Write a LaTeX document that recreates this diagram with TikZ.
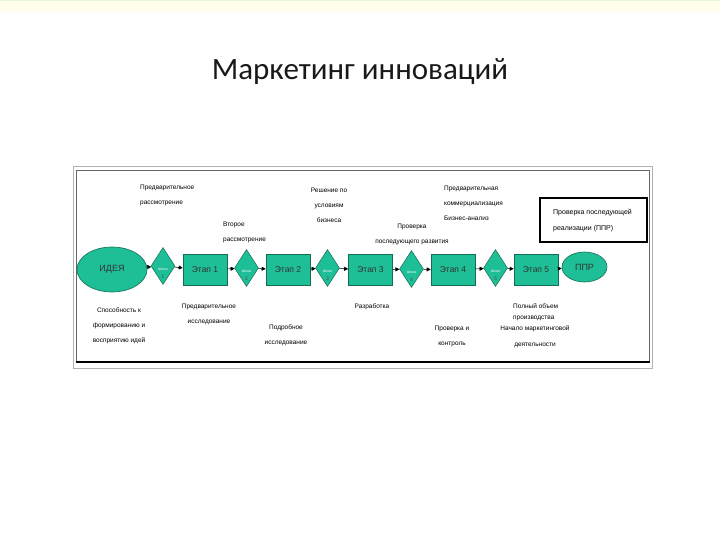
\documentclass[tikz,border=0pt]{standalone}
\usepackage{fontspec}
\setmainfont{Liberation Sans}
\newfontfamily\titlefont{Carlito}
\usetikzlibrary{shapes.geometric,arrows.meta}
\definecolor{gr}{RGB}{30,190,150}
\definecolor{grdark}{RGB}{20,110,85}
\begin{document}
\begin{tikzpicture}[x=1pt,y=-1pt,
  lbl/.style={font=\fontsize{6.5}{15}\selectfont, text=black, align=left, inner sep=0, anchor=west},
  lblc/.style={font=\fontsize{6.5}{15}\selectfont, text=black, align=center, inner sep=0},
  stagebox/.style={rectangle, fill=gr, draw=grdark, line width=0.6pt, minimum width=44pt, minimum height=31pt, inner sep=0, font=\fontsize{8.5}{10}\selectfont, text=black!80},
  gate/.style={diamond, fill=gr, draw=grdark, line width=0.5pt, minimum width=24pt, minimum height=37pt, inner sep=0},
  oval/.style={ellipse, fill=gr, draw=grdark, line width=0.6pt, inner sep=0, font=\fontsize{9}{10}\selectfont, text=black!80},
  gtop/.style={font=\fontsize{3.5}{4}\selectfont, text=white, inner sep=0},
  gnum/.style={font=\fontsize{5}{6}\selectfont, text=black!70, inner sep=0},
  flow/.style={-{Triangle[length=4pt,width=4pt]}, line width=0.6pt, black}
]
\path[use as bounding box, fill=white] (0,0) rectangle (720,540);
% top band
\fill[yellow!30!green!15] (0,0) rectangle (720,1.5);
\fill[yellow!7] (0,1.5) rectangle (720,12);

% title
\node[font=\titlefont\fontsize{31}{34}\selectfont, text=black!90, inner sep=0] (title) at (360,72) {Маркетинг инноваций};

% frame
\draw[gray!60, line width=0.8pt] (73,166.5) rectangle (652,368);
\draw[black!60, line width=0.6pt] (76,362) -- (76,170) -- (649,170) -- (649,362);
\draw[black, line width=2.2pt] (75.5,362) -- (649.5,362);

% main row
\node[oval, minimum width=70pt, minimum height=45pt] (idea) at (112,269.5) {ИДЕЯ};
\node[gate] (d1) at (163,266) {};
\node[stagebox] (s1) at (205,270) {Этап 1};
\node[gate] (d2) at (246.5,268) {};
\node[stagebox] (s2) at (288,270) {Этап 2};
\node[gate] (d3) at (327.5,268) {};
\node[stagebox] (s3) at (370.5,270) {Этап 3};
\node[gate] (d4) at (411.5,269) {};
\node[stagebox] (s4) at (453,270) {Этап 4};
\node[gate] (d5) at (495.5,268) {};
\node[stagebox] (s5) at (536,270) {Этап 5};
\node[oval, minimum width=45pt, minimum height=30pt] (ppr) at (584.5,267) {ППР};

\foreach \i in {1,...,5}{
  \node[gtop] (g\i) at ([yshift=-3pt]d\i.center) {Шлюз};
  \node[gnum] (n\i) at ([yshift=-11pt]d\i.center) {\i};
}

\draw[flow] (idea) -- (d1);
\draw[flow] (d1) -- (s1);
\draw[flow] (s1) -- (d2);
\draw[flow] (d2) -- (s2);
\draw[flow] (s2) -- (d3);
\draw[flow] (d3) -- (s3);
\draw[flow] (s3) -- (d4);
\draw[flow] (d4) -- (s4);
\draw[flow] (s4) -- (d5);
\draw[flow] (d5) -- (s5);
\draw[flow] (s5) -- (ppr);

% top labels
\node[lbl] (t1) at (140,195) {Предварительное\\рассмотрение};
\node[lbl] (t2) at (223,232) {Второе\\рассмотрение};
\node[lblc] (t3) at (329,205) {Решение по\\условиям\\бизнеса};
\node[lblc] (t4) at (412,234.5) {Проверка\\последующего развития};
\node[lbl] (t5) at (444,203) {Предварительная\\коммерциализация\\Бизнес-анализ};

% bottom labels
\node[lblc] (b1) at (119,325.5) {Способность к\\формированию и\\восприятию идей};
\node[lblc] (b2) at (209,314.5) {Предварительное\\исследование};
\node[lblc] (b3) at (286,335.5) {Подробное\\исследование};
\node[lblc] (b4) at (372,307) {Разработка};
\node[lblc] (b5) at (452,336.5) {Проверка и\\контроль};
\node[lbl, font=\fontsize{6.5}{11}\selectfont] (b6) at (513,312.5) {Полный объем\\производства};
\node[lblc, font=\fontsize{6.5}{16}\selectfont] (b7) at (535,337) {Начало маркетинговой\\деятельности};

% legend box
\node[rectangle, draw=black, line width=1.3pt, minimum width=107pt, minimum height=44pt, inner sep=0] (legend) at (593.5,220) {};
\node[lbl, font=\fontsize{7}{16}\selectfont] (legtxt) at (553,221) {Проверка последующей\\реализации (ППР)};
\end{tikzpicture}
\end{document}
